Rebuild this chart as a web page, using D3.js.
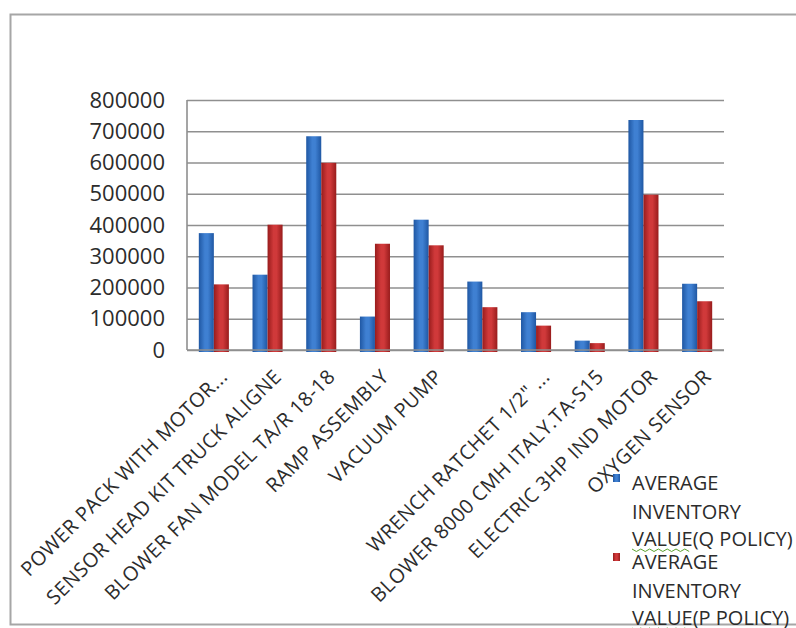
<!DOCTYPE html>
<html>
<head>
<meta charset="utf-8">
<script src="https://cdn.jsdelivr.net/npm/d3@7"></script>
<style>
  body { margin: 0; background: #fff; }
  text { font-family: "Open Sans", sans-serif; fill: #2c2c2c; }
</style>
</head>
<body>
<script>
// chart data
const categories = [
  'POWER PACK WITH MOTOR...',
  'SENSOR HEAD KIT TRUCK ALIGNE',
  'BLOWER FAN MODEL TA/R 18-18',
  'RAMP ASSEMBLY',
  'VACUUM PUMP',
  '',
  'WRENCH RATCHET 1/2" ...',
  'BLOWER 8000 CMH ITALY.TA-S15',
  'ELECTRIC 3HP IND MOTOR',
  'OXYGEN SENSOR'
];
const qPolicy = [374000, 241000, 684000, 107000, 417000, 219000, 121000, 30000, 736000, 212000];
const pPolicy = [210000, 401000, 599000, 340000, 335000, 137000, 78000, 22000, 497000, 156000];
const seriesNames = ['AVERAGE INVENTORY VALUE(Q POLICY)', 'AVERAGE INVENTORY VALUE(P POLICY)'];
const legendLines = [
  ['AVERAGE', 'INVENTORY', 'VALUE(Q POLICY)'],
  ['AVERAGE', 'INVENTORY', 'VALUE(P POLICY)']
];
const yTicks = [0, 100000, 200000, 300000, 400000, 500000, 600000, 700000, 800000];

const WIDTH = 796, HEIGHT = 628;
const plot = {left: 187, right: 724, top: 100, bottom: 350};

const svg = d3.select('body').append('svg')
  .attr('width', WIDTH)
  .attr('height', HEIGHT);

// outer chart frame
svg.append('rect')
  .attr('x', 10.5).attr('y', 14.5)
  .attr('width', 820).attr('height', 610)
  .attr('fill', '#fff')
  .attr('stroke', '#a6a6a6')
  .attr('stroke-width', 2);

// gradients for the excel-ish bar look
const defs = svg.append('defs');
const makeGrad = function(id, edge, mid) {
  const g = defs.append('linearGradient').attr('id', id)
    .attr('x1', '0%').attr('x2', '100%').attr('y1', '0%').attr('y2', '0%');
  g.append('stop').attr('offset', '0%').attr('stop-color', edge);
  g.append('stop').attr('offset', '40%').attr('stop-color', mid);
  g.append('stop').attr('offset', '60%').attr('stop-color', mid);
  g.append('stop').attr('offset', '100%').attr('stop-color', edge);
};
makeGrad('gradQ', '#1f57a3', '#3f80d2');
makeGrad('gradP', '#981c1c', '#d0393a');
const fills = ['url(#gradQ)', 'url(#gradP)'];

// scales
const x0 = d3.scaleBand()
  .domain(d3.range(categories.length))
  .range([plot.left, plot.right])
  .paddingInner(0.44)
  .paddingOuter(0.22);

const x1 = d3.scaleBand()
  .domain([0, 1])
  .range([0, x0.bandwidth()]);

const y = d3.scaleLinear()
  .domain([0, 800000])
  .range([plot.bottom, plot.top]);

// gridlines + y labels
const yAxis = d3.axisLeft(y)
  .tickValues(yTicks)
  .tickSize(-(plot.right - plot.left))
  .tickPadding(22)
  .tickFormat(d3.format('d'));

const yG = svg.append('g')
  .attr('transform', 'translate(' + plot.left + ',0)')
  .call(yAxis);
yG.select('.domain').remove();
yG.selectAll('.tick line')
  .attr('stroke', '#8f8f8f')
  .attr('stroke-width', 1.6);
yG.selectAll('.tick text')
  .style('font-size', '22px')
  .attr('fill', '#2c2c2c');

// y axis line
svg.append('line')
  .attr('x1', plot.left).attr('x2', plot.left)
  .attr('y1', plot.top).attr('y2', plot.bottom)
  .attr('stroke', '#8f8f8f')
  .attr('stroke-width', 1.6);

// bars
const series = [qPolicy, pPolicy];
const groups = svg.append('g').selectAll('g')
  .data(categories)
  .join('g')
  .attr('transform', (d, i) => 'translate(' + x0(i) + ',0)');

groups.selectAll('rect')
  .data((d, i) => series.map((s, k) => ({k: k, v: s[i]})))
  .join('rect')
  .attr('x', d => x1(d.k))
  .attr('y', d => y(d.v))
  .attr('width', x1.bandwidth())
  .attr('height', d => y(0) - y(d.v) + 2)
  .attr('fill', d => fills[d.k]);

// zero line on top
svg.append('line')
  .attr('x1', plot.left).attr('x2', plot.right)
  .attr('y1', y(0)).attr('y2', y(0))
  .attr('stroke', '#8f8f8f')
  .attr('stroke-width', 1.6);

// category labels, rotated
svg.append('g').selectAll('text')
  .data(categories)
  .join('text')
  .attr('text-anchor', 'end')
  .style('font-size', '20px')
  .style('letter-spacing', '0.4px')
  .attr('transform', (d, i) => {
    const cx = x0(i) + x0.bandwidth() / 2 + 15;
    return 'translate(' + cx + ',' + 378 + ') rotate(-45)';
  })
  .text(d => d);

// legend
const legend = svg.append('g').selectAll('g')
  .data(seriesNames)
  .join('g')
  .attr('transform', (d, i) => 'translate(613,' + (474 + i * 79) + ')');

legend.append('rect')
  .attr('width', 7).attr('height', 8)
  .attr('fill', (d, i) => fills[i]);

legend.each(function(d, i) {
  const g = d3.select(this);
  const offsets = [16, 45, 72];
  legendLines[i].forEach((line, j) => {
    g.append('text')
      .attr('x', 19)
      .attr('y', offsets[j])
      .style('font-size', '20px')
      .text(line);
  });
  // spell-check squiggle under VALUE
  const pts = d3.range(0, 14).map(n => [19 + n * 4.4, 75 + (n % 2 ? 2.5 : 0)]);
  g.append('path')
    .attr('d', d3.line()(pts))
    .attr('fill', 'none')
    .attr('stroke', '#5aa02c')
    .attr('stroke-width', 1);
});
</script>
</body>
</html>
